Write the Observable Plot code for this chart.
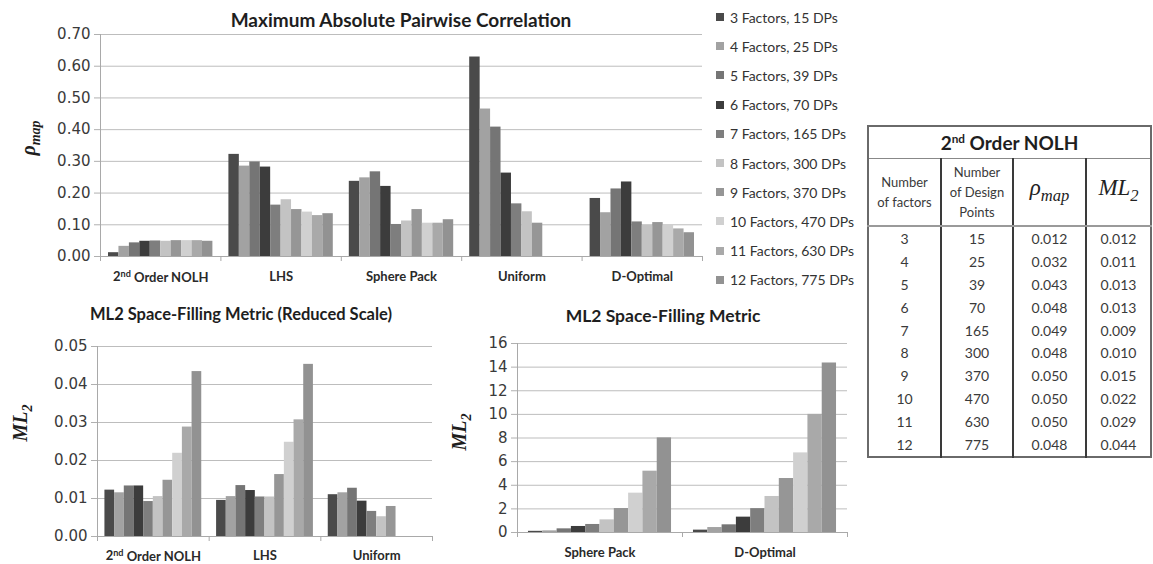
<!DOCTYPE html>
<html><head><meta charset="utf-8">
<script src="https://cdn.jsdelivr.net/npm/d3@7"></script>
<script src="https://cdn.jsdelivr.net/npm/@observablehq/plot@0.6"></script>
<style>
body{margin:0;background:#fff;}
#root{position:relative;width:1153px;height:564px;overflow:hidden;font-family:Lato,sans-serif;background:#fff;}
.chart{position:absolute;}
.title{position:absolute;font-family:Lato,sans-serif;font-weight:bold;color:#1e1e1e;white-space:nowrap;transform:translate(-50%,-50%);}
.ylab{position:absolute;font-family:"Liberation Serif",serif;font-style:italic;font-weight:bold;color:#1e1e1e;white-space:nowrap;transform:translate(-50%,-50%) rotate(-90deg);font-size:20px;}
.ylab sub{font-size:0.7em;}
#legend{position:absolute;left:716px;top:0;font-family:Lato,sans-serif;font-size:14px;color:#333;}
#legend .row{position:absolute;white-space:nowrap;display:flex;align-items:center;height:18px;}
#legend .sw{width:8px;height:8px;margin-right:6px;}
#tbl{position:absolute;left:867px;top:125px;width:285px;border-collapse:collapse;table-layout:fixed;border:2px solid #6a6a6a;font-family:Lato,sans-serif;color:#3a3a3a;}
#tbl td,#tbl th{padding:0;text-align:center;}
#tbl .ttl{height:31px;font-size:19px;font-weight:bold;color:#1e1e1e;border-bottom:1px solid #888;}
#tbl .ttl sup{font-size:0.62em;}
#tbl .hdr th{height:66px;font-weight:normal;font-size:13px;line-height:20px;border-bottom:2px solid #9a9a9a;}
#tbl .hdr th.math{font-family:"Liberation Serif",serif;font-style:italic;font-size:23px;color:#222;}
#tbl .hdr th.math sub{font-size:0.72em;}
#tbl td{height:22.9px;font-size:14px;}
#tbl .c0,#tbl .c1,#tbl .c2{border-right:2px solid #3a3a3a;}
</style>
</head><body>
<div id="root"></div>
<script>
// ---------- data ----------
const seriesLabels = ["3 Factors, 15 DPs","4 Factors, 25 DPs","5 Factors, 39 DPs","6 Factors, 70 DPs","7 Factors, 165 DPs","8 Factors, 300 DPs","9 Factors, 370 DPs","10 Factors, 470 DPs","11 Factors, 630 DPs","12 Factors, 775 DPs"];
const seriesColors = ["#4a4a4a","#a2a2a2","#757575","#3c3c3c","#7e7e7e","#c3c3c3","#969696","#d0d0d0","#a9a9a9","#929292"];

// Maximum Absolute Pairwise Correlation
const rhoGroups = ["2nd Order NOLH","LHS","Sphere Pack","Uniform","D-Optimal"];
const rhoNOLH    = [0.012,0.032,0.043,0.048,0.049,0.048,0.050,0.050,0.050,0.048];
const rhoLHS     = [0.322,0.285,0.298,0.282,0.162,0.179,0.148,0.140,0.129,0.135];
const rhoSphere  = [0.237,0.248,0.267,0.221,0.101,0.112,0.148,0.105,0.105,0.116];
const rhoUniform = [0.629,0.465,0.408,0.263,0.166,0.141,0.105];
const rhoDOpt    = [0.183,0.138,0.213,0.235,0.109,0.098,0.107,0.100,0.087,0.075];
const rhoTicks = [0,0.1,0.2,0.3,0.4,0.5,0.6,0.7];

// ML2 reduced scale
const mlSmallGroups = ["2nd Order NOLH","LHS","Uniform"];
const mlNOLH    = [0.0122,0.0115,0.0133,0.0133,0.0092,0.0105,0.0148,0.0219,0.0288,0.0434];
const mlLHS     = [0.0095,0.0105,0.0134,0.0121,0.0104,0.0104,0.0163,0.0248,0.0307,0.0453];
const mlUniform = [0.0110,0.0115,0.0127,0.0093,0.0066,0.0052,0.0079];
const mlSmallTicks = [0,0.01,0.02,0.03,0.04,0.05];

// ML2 full scale
const mlBigGroups = ["Sphere Pack","D-Optimal"];
const mlSphere = [0.10,0.14,0.31,0.51,0.68,1.07,2.03,3.33,5.19,8.01];
const mlDOpt   = [0.20,0.42,0.65,1.30,2.02,3.05,4.57,6.74,10.0,14.35];
const mlBigTicks = [0,2,4,6,8,10,12,14,16];

// Table
const tblFactors = ["3","4","5","6","7","8","9","10","11","12"];
const tblPoints  = ["15","25","39","70","165","300","370","470","630","775"];
const tblRho     = ["0.012","0.032","0.043","0.048","0.049","0.048","0.050","0.050","0.050","0.048"];
const tblML2     = ["0.012","0.011","0.013","0.013","0.009","0.010","0.015","0.022","0.029","0.044"];

// ---------- drawing ----------
const root = document.getElementById("root");
const PAD = 0.0665, BW = 0.0867;

function superscriptFix(svg){
  d3.select(svg).selectAll("text").each(function(){
    const t = this.textContent;
    if (t.startsWith("2nd ")) {
      const sel = d3.select(this);
      sel.text("");
      sel.append("tspan").text("2");
      sel.append("tspan").attr("dy","-0.45em").attr("font-size","0.7em").text("nd");
      sel.append("tspan").attr("dy","0.45em").text(t.slice(3));
    }
  });
}

function groupedBars({groups, values, yMax, yTicks, fmt, width, height, ml, mr, mt, mb, labelDy, left, top}) {
  const rows = [];
  groups.forEach((g, gi) => values[gi].forEach((v, si) => rows.push({gi, si, series: seriesLabels[si], v})));
  const svg = Plot.plot({
    width, height, marginLeft: ml, marginRight: mr, marginTop: mt, marginBottom: mb,
    style: {fontFamily: "DejaVu Sans", fontSize: "15px", color: "#3a3a3a", background: "white", overflow: "visible"},
    x: {domain: [0, groups.length], axis: null},
    y: {domain: [0, yMax], axis: null},
    color: {domain: seriesLabels, range: seriesColors},
    marks: [
      Plot.gridY(yTicks, {stroke: "#bdbdbd", strokeOpacity: 1}),
      Plot.rectY(rows, {x1: d => d.gi + PAD + d.si * BW, x2: d => d.gi + PAD + (d.si + 1) * BW, y: "v", fill: "series"}),
      Plot.ruleX([0], {stroke: "#a9a9a9"}),
      Plot.ruleY([0], {stroke: "#a9a9a9"}),
      Plot.axisY(yTicks, {label: null, tickSize: 6, tickPadding: 4, tickFormat: fmt, stroke: "#b0b0b0", fill: "#3a3a3a"}),
      Plot.axisX(d3.range(groups.length + 1), {label: null, tickSize: 5, tickFormat: () => "", stroke: "#a9a9a9"}),
      Plot.text(groups, {x: (d, i) => i + 0.5, y: 0, dy: labelDy, text: d => d, fontFamily: "Lato", fontWeight: "bold", fontSize: 13, fill: "#2a2a2a"})
    ]
  });
  superscriptFix(svg);
  const div = document.createElement("div");
  div.className = "chart";
  div.style.left = left + "px";
  div.style.top = top + "px";
  div.appendChild(svg);
  root.appendChild(div);
}

function addTitle(text, cx, cy, size){
  const d = document.createElement("div");
  d.className = "title";
  d.style.left = cx + "px"; d.style.top = cy + "px"; d.style.fontSize = size + "px";
  d.textContent = text;
  root.appendChild(d);
}
function addYLabel(html, cx, cy){
  const d = document.createElement("div");
  d.className = "ylab";
  d.style.left = cx + "px"; d.style.top = cy + "px";
  d.innerHTML = html;
  root.appendChild(d);
}

// Top chart
groupedBars({groups: rhoGroups, values: [rhoNOLH, rhoLHS, rhoSphere, rhoUniform, rhoDOpt],
  yMax: 0.7, yTicks: rhoTicks, fmt: d3.format(".2f"),
  width: 705, height: 290, ml: 100, mr: 3, mt: 34, mb: 34, labelDy: 20, left: 0, top: 0});
addTitle("Maximum Absolute Pairwise Correlation", 401, 19, 19);
addYLabel("ρ<sub>map</sub>", 30, 138);

// Bottom-left chart
groupedBars({groups: mlSmallGroups, values: [mlNOLH, mlLHS, mlUniform],
  yMax: 0.05, yTicks: mlSmallTicks, fmt: d3.format(".2f"),
  width: 440, height: 264, ml: 97, mr: 8, mt: 46, mb: 28, labelDy: 19, left: 0, top: 300});
addTitle("ML2 Space-Filling Metric (Reduced Scale)", 241, 314, 16.5);
addYLabel("ML<sub>2</sub>", 22, 423);

// Bottom-right chart
groupedBars({groups: mlBigGroups, values: [mlSphere, mlDOpt],
  yMax: 16, yTicks: mlBigTicks, fmt: d => String(d),
  width: 420, height: 264, ml: 77, mr: 13, mt: 43, mb: 32, labelDy: 20, left: 440, top: 300});
addTitle("ML2 Space-Filling Metric", 663, 315, 17.5);
addYLabel("ML<sub>2</sub>", 461, 432);

// Legend
const legend = document.createElement("div");
legend.id = "legend";
seriesLabels.forEach((s, i) => {
  const r = document.createElement("div");
  r.className = "row";
  r.style.top = (8 + i * 29.2) + "px";
  r.innerHTML = `<span class="sw" style="background:${seriesColors[i]}"></span><span>${s}</span>`;
  legend.appendChild(r);
});
root.appendChild(legend);

// Table
const tbl = document.createElement("table");
tbl.id = "tbl";
let html = `<colgroup><col style="width:73px"><col style="width:72px"><col style="width:73px"><col></colgroup>`;
html += `<tr><th colspan="4" class="ttl">2<sup>nd</sup> Order NOLH</th></tr>`;
html += `<tr class="hdr"><th class="c0">Number<br>of factors</th><th class="c1">Number<br>of Design<br>Points</th><th class="c2 math">ρ<sub>map</sub></th><th class="math">ML<sub>2</sub></th></tr>`;
tblFactors.forEach((f, i) => {
  html += `<tr><td class="c0">${f}</td><td class="c1">${tblPoints[i]}</td><td class="c2">${tblRho[i]}</td><td>${tblML2[i]}</td></tr>`;
});
tbl.innerHTML = html;
root.appendChild(tbl);
</script>
</body></html>
